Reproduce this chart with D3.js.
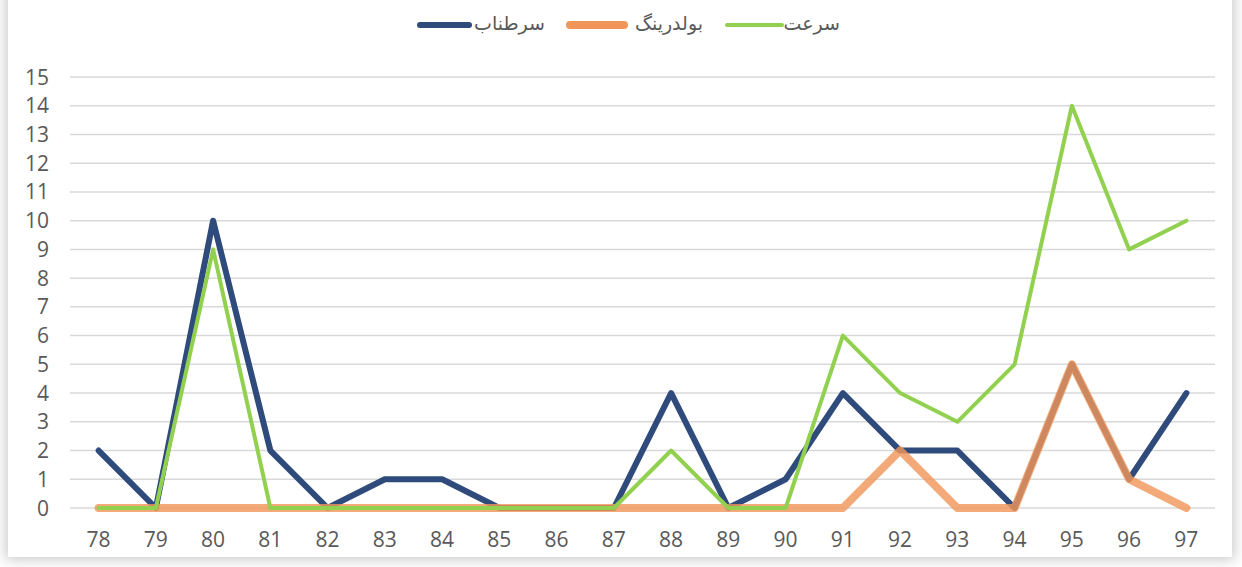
<!DOCTYPE html>
<html>
<head>
<meta charset="utf-8">
<script src="https://cdn.jsdelivr.net/npm/d3@7"></script>
<style>
  body { margin: 0; background: #fff; }
  #frame {
    position: absolute; left: 8px; top: -10px; width: 1224px; height: 567px;
    background: #fff; box-shadow: 0 0 12px 3px rgba(0,0,0,0.2);
  }
  svg { position: absolute; left: 0; top: 0; font-family: "Open Sans", "Liberation Sans", sans-serif; }
</style>
</head>
<body>
<div id="frame"></div>
<svg id="chart"></svg>
<script>
const years = ["78","79","80","81","82","83","84","85","86","87","88","89","90","91","92","93","94","95","96","97"]
const yTicks = d3.range(0, 16)

const sarTanab = [2,0,10,2,0,1,1,0,0,0,4,0,1,4,2,2,0,5,1,4]
const bouldering = [0,0,0,0,0,0,0,0,0,0,0,0,0,0,2,0,0,5,1,0]
const sorat = [0,0,9,0,0,0,0,0,0,0,2,0,0,6,4,3,5,14,9,10]

const seriesNames = ["سرطناب", "بولدرینگ", "سرعت"]

const width = 1242
const height = 567
const margin = { top: 77, right: 27, bottom: 59, left: 70 }

const svg = d3.select("#chart").attr("width", width).attr("height", height)

const x = d3.scaleBand()
  .domain(years)
  .range([margin.left, width - margin.right])

const y = d3.scaleLinear()
  .domain([0, 15])
  .range([height - margin.bottom, margin.top])

// gridlines
svg.append("g")
  .selectAll("line")
  .data(yTicks)
  .enter()
  .append("line")
  .attr("x1", margin.left)
  .attr("x2", width - margin.right)
  .attr("y1", d => y(d))
  .attr("y2", d => y(d))
  .attr("stroke", "#d9d9d9")
  .attr("stroke-width", 1.5)

// y labels
svg.append("g")
  .selectAll("text")
  .data(yTicks)
  .enter()
  .append("text")
  .attr("x", 49)
  .attr("y", d => y(d))
  .attr("dy", "0.36em")
  .attr("text-anchor", "end")
  .attr("font-size", "21px")
  .attr("fill", "#595959")
  .text(d => d)

// x labels
svg.append("g")
  .selectAll("text")
  .data(years)
  .enter()
  .append("text")
  .attr("x", d => x(d) + x.bandwidth() / 2)
  .attr("y", 539)
  .attr("dy", "0.36em")
  .attr("text-anchor", "middle")
  .attr("font-size", "21px")
  .attr("fill", "#595959")
  .text(d => d)

const line = d3.line()
  .x((d, i) => x(years[i]) + x.bandwidth() / 2)
  .y(d => y(d))

const series = [
  { name: seriesNames[0], values: sarTanab, color: "#2f4b7c", width: 6, opacity: 1 },
  { name: seriesNames[1], values: bouldering, color: "#f0965a", width: 8, opacity: 0.82 },
  { name: seriesNames[2], values: sorat, color: "#92d050", width: 4, opacity: 1 }
]

series.forEach(s => {
  svg.append("path")
    .datum(s.values)
    .attr("d", line)
    .attr("fill", "none")
    .attr("stroke", s.color)
    .attr("stroke-width", s.width)
    .attr("stroke-opacity", s.opacity)
    .attr("stroke-linejoin", "round")
    .attr("stroke-linecap", "round")
})

// legend
const legendPos = [
  { x1: 420, x2: 469, tx: 545 },
  { x1: 570, x2: 624, tx: 703 },
  { x1: 727, x2: 782, tx: 840 }
]
series.forEach((s, i) => {
  const p = legendPos[i]
  svg.append("line")
    .attr("x1", p.x1).attr("x2", p.x2)
    .attr("y1", 25).attr("y2", 25)
    .attr("stroke", s.color)
    .attr("stroke-width", s.width)
    .attr("stroke-linecap", "round")
  svg.append("text")
    .attr("x", p.tx)
    .attr("y", 23)
    .attr("dy", "0.35em")
    .attr("text-anchor", "end")
    .attr("font-size", "19px")
    .attr("font-family", "'DejaVu Sans', sans-serif")
    .attr("fill", "#595959")
    .text(s.name)
})
</script>
</body>
</html>
